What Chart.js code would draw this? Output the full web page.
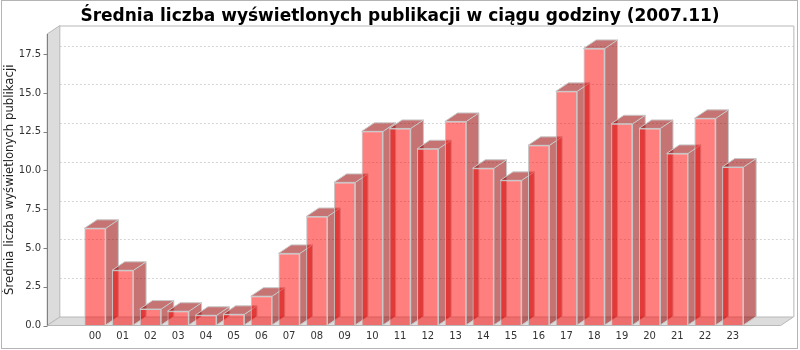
<!DOCTYPE html>
<html>
<head>
<meta charset="utf-8">
<script src="https://cdn.jsdelivr.net/npm/chart.js@4/dist/chart.umd.min.js"></script>
<style>
    html, body { margin: 0; padding: 0; background: #fff; }
    #wrap { width: 800px; height: 350px; }
</style>
</head>
<body>
<div id="wrap"><canvas id="chart" width="800" height="350"></canvas></div>
<script>
const hours = ['00', '01', '02', '03', '04', '05', '06', '07', '08', '09', '10', '11',
               '12', '13', '14', '15', '16', '17', '18', '19', '20', '21', '22', '23'];
const avgViews = [6.27, 3.56, 1.06, 0.92, 0.66, 0.72, 1.89, 4.65, 7.03, 9.23, 12.52, 12.71,
                  11.40, 13.16, 10.14, 9.36, 11.62, 15.10, 17.87, 13.01, 12.71, 11.10, 13.36, 10.22];
const yTicks = [0, 2.5, 5, 7.5, 10, 12.5, 15, 17.5];

const chartTitle = 'Średnia liczba wyświetlonych publikacji w ciągu godziny (2007.11)';
const yAxisTitle = 'Średnia liczba wyświetlonych publikacji';

document.addEventListener('DOMContentLoaded', () => {
    const ctx = document.getElementById('chart').getContext('2d');

    // depth of the 3d effect and the margin between the plot edge and the first/last bar
    const DX = 12.7, DY = 8.5, SIDE_MARGIN = 34;

    const bars3d = {
        id: 'bars3d',
        beforeDatasetsDraw(chart) {
            const c = chart.ctx;
            const area = chart.chartArea;
            const y = chart.scales.y;
            const fl = area.left - SIDE_MARGIN, fr = area.right + SIDE_MARGIN;
            const top = area.top, bottom = area.bottom;

            c.save();
            // back wall gridlines
            c.strokeStyle = '#d4d4d4';
            c.lineWidth = 1;
            c.setLineDash([2, 2]);
            yTicks.forEach(v => {
                if (v === 0) return;
                const py = Math.round(y.getPixelForValue(v) - DY) + 0.5;
                c.beginPath();
                c.moveTo(fl + DX, py);
                c.lineTo(fr + DX, py);
                c.stroke();
            });
            c.setLineDash([]);

            // left wall and floor
            c.fillStyle = '#dcdcdc';
            c.strokeStyle = '#b8b8b8';
            c.beginPath();
            c.moveTo(fl, top);
            c.lineTo(fl + DX, top - DY);
            c.lineTo(fl + DX, bottom - DY);
            c.lineTo(fl, bottom);
            c.closePath();
            c.fill();
            c.stroke();

            c.beginPath();
            c.moveTo(fl, bottom);
            c.lineTo(fl + DX, bottom - DY);
            c.lineTo(fr + DX, bottom - DY);
            c.lineTo(fr, bottom);
            c.closePath();
            c.fill();
            c.stroke();

            // back wall outline
            c.beginPath();
            c.moveTo(fl + DX, top - DY + 0.5);
            c.lineTo(fr + DX + 0.5, top - DY + 0.5);
            c.lineTo(fr + DX + 0.5, bottom - DY);
            c.stroke();

            // side and top faces of the bars, behind the front faces
            const meta = chart.getDatasetMeta(0);
            c.strokeStyle = '#c8c8c8';
            meta.data.forEach(bar => {
                const p = bar.getProps(['x', 'y', 'base', 'width'], true);
                const l = p.x - p.width / 2, r = p.x + p.width / 2;
                c.fillStyle = 'rgba(150, 0, 0, 0.55)';
                c.beginPath();
                c.moveTo(r, p.y);
                c.lineTo(r + DX, p.y - DY);
                c.lineTo(r + DX, p.base - DY);
                c.lineTo(r, p.base);
                c.closePath();
                c.fill();
                c.stroke();

                c.beginPath();
                c.moveTo(l, p.y);
                c.lineTo(l + DX, p.y - DY);
                c.lineTo(r + DX, p.y - DY);
                c.lineTo(r, p.y);
                c.closePath();
                c.fill();
                c.stroke();
            });
            c.restore();
        },
        afterDraw(chart) {
            const c = chart.ctx;
            const area = chart.chartArea;
            const y = chart.scales.y;
            const fl = Math.round(area.left - SIDE_MARGIN) + 0.5;

            c.save();
            c.strokeStyle = '#808080';
            c.lineWidth = 1;
            c.beginPath();
            c.moveTo(fl, area.top);
            c.lineTo(fl, area.bottom);
            yTicks.forEach(v => {
                const py = Math.round(y.getPixelForValue(v)) + 0.5;
                c.moveTo(fl - 4, py);
                c.lineTo(fl, py);
            });
            c.stroke();

            // chart border
            c.strokeStyle = '#b4b4b4';
            c.strokeRect(1.5, 0.5, 796, 348);
            c.restore();
        }
    };

    new Chart(ctx, {
        type: 'bar',
        data: {
            labels: hours,
            datasets: [{
                data: avgViews,
                backgroundColor: 'rgba(255, 0, 0, 0.5)',
                borderColor: '#c8c8c8',
                borderWidth: 1,
                barPercentage: 0.77,
                categoryPercentage: 1
            }]
        },
        options: {
            responsive: false,
            animation: false,
            layout: { padding: 0 },
            plugins: {
                legend: { display: false },
                tooltip: { enabled: false },
                title: {
                    display: true,
                    text: chartTitle,
                    color: '#000',
                    font: { family: 'DejaVu Sans', size: 17, weight: 'bold' },
                    padding: { top: 6.5, bottom: 7.1 }
                }
            },
            scales: {
                x: {
                    offset: true,
                    grid: { display: false, drawTicks: false },
                    border: { display: false },
                    ticks: {
                        color: '#333',
                        font: { family: 'DejaVu Sans', size: 10 },
                        padding: 5,
                        maxRotation: 0
                    },
                    afterFit: scale => { scale.height = 24.5; }
                },
                y: {
                    min: 0,
                    max: 18.8,
                    // invisible tick marks push the labels left to the front wall edge
                    grid: { display: true, drawOnChartArea: false, drawTicks: true, tickLength: 36, color: 'rgba(0,0,0,0)' },
                    border: { display: false },
                    ticks: {
                        stepSize: 2.5,
                        includeBounds: false,
                        color: '#333',
                        font: { family: 'DejaVu Sans', size: 10 },
                        padding: 4,
                        callback: v => v.toFixed(1)
                    },
                    title: {
                        display: true,
                        text: yAxisTitle,
                        color: '#222',
                        font: { family: 'DejaVu Sans', size: 11.7 },
                        padding: { top: 3, bottom: 0 }
                    },
                    afterFit: scale => { scale.width = 81.13; }
                },
                yRight: {
                    position: 'right',
                    grid: { display: false, drawTicks: false },
                    border: { display: false },
                    ticks: { display: false },
                    afterFit: scale => { scale.width = 53.33; }
                }
            }
        },
        plugins: [bars3d]
    });
});
</script>
</body>
</html>
